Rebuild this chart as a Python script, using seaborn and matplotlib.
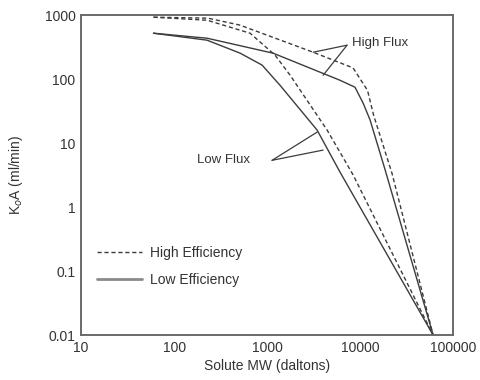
import numpy as np
import pandas as pd
import matplotlib
matplotlib.use("Agg")
import matplotlib.pyplot as plt
from matplotlib.lines import Line2D
import seaborn as sns

# curves: solute MW (daltons) vs KoA (ml/min)
he_high_mw = [60, 230, 510, 3100, 8400, 12000, 14000, 22000, 61000]
he_high_koa = [930, 900, 700, 265, 150, 67, 27, 3.4, 0.01]

le_high_mw = [60, 226, 1160, 6100, 8800, 10800, 12800, 18600, 61000]
le_high_koa = [523, 437, 255, 96, 75, 42, 23, 3.8, 0.01]

he_low_mw = [60, 226, 656, 1220, 1770, 4420, 8400, 61000]
he_low_koa = [930, 835, 523, 237, 115, 16, 3.2, 0.01]

le_low_mw = [60, 226, 513, 883, 1380, 3450, 6100, 61000]
le_low_koa = [523, 407, 255, 166, 80, 16, 3.5, 0.01]

x_ticks = [10, 100, 1000, 10000, 100000]
x_tick_labels = ["10", "100", "1000", "10000", "100000"]
y_ticks = [0.01, 0.1, 1, 10, 100, 1000]
y_tick_labels = ["0.01", "0.1", "1", "10", "100", "1000"]


def build_frame():
    parts = []
    for name, eff, mw, koa in [
        ("he_high", "High Efficiency", he_high_mw, he_high_koa),
        ("le_high", "Low Efficiency", le_high_mw, le_high_koa),
        ("he_low", "High Efficiency", he_low_mw, he_low_koa),
        ("le_low", "Low Efficiency", le_low_mw, le_low_koa),
    ]:
        parts.append(pd.DataFrame({"curve": name, "efficiency": eff,
                                   "mw": mw, "koa": koa}))
    return pd.concat(parts, ignore_index=True)


if __name__ == '__main__':
    sns.set_style("white")
    plt.rcParams['font.family'] = ['Liberation Sans', 'DejaVu Sans']

    df = build_frame()
    line_color = "#3c3c3c"

    fig = plt.figure(figsize=(4.8, 3.8), dpi=100)
    ax = fig.add_axes([0.169, 0.118, 0.775, 0.842])

    sns.lineplot(data=df, x="mw", y="koa", units="curve", estimator=None,
                 style="efficiency", sort=False, color=line_color, linewidth=1.0,
                 dashes={"High Efficiency": (3, 2), "Low Efficiency": ""},
                 legend=False, ax=ax, clip_on=False)

    ax.set_xscale("log")
    ax.set_yscale("log")
    ax.set_xlim(10, 100000)
    ax.set_ylim(0.01, 1000)
    ax.set_xticks(x_ticks)
    ax.set_xticklabels(x_tick_labels)
    ax.set_yticks(y_ticks)
    ax.set_yticklabels(y_tick_labels)
    ax.minorticks_off()
    ax.tick_params(length=0, labelsize=10, colors="#333333", pad=4)

    for side in ["top", "right", "left", "bottom"]:
        ax.spines[side].set_color("#6a6a6a")
        ax.spines[side].set_linewidth(1.4)

    ax.set_xlabel("Solute MW (daltons)", fontsize=10, color="#333333", labelpad=3)
    ax.set_ylabel(r"K$_o$A (ml/min)", fontsize=10, color="#333333", labelpad=14)

    # flux labels with pointer lines
    ax.text(8200, 365, "High Flux", fontsize=9.5, color="#333333", va="center")
    ax.plot([7240, 3130], [340, 264], color=line_color, lw=0.9)
    ax.plot([7240, 4000], [340, 115], color=line_color, lw=0.9)

    ax.text(177, 5.4, "Low Flux", fontsize=9.5, color="#333333", va="center")
    ax.plot([1130, 3450], [5.4, 14.9], color=line_color, lw=0.9)
    ax.plot([1130, 4000], [5.4, 7.8], color=line_color, lw=0.9)

    handles = [Line2D([], [], color=line_color, lw=1.0, dashes=(3, 2)),
               Line2D([], [], color="#8a8a8a", lw=2.0)]
    ax.legend(handles, ["High Efficiency", "Low Efficiency"], frameon=False,
              loc="upper left", bbox_to_anchor=(0.01, 0.317), fontsize=10,
              handlelength=3.2, handletextpad=0.6, labelspacing=0.9,
              labelcolor="#333333")

    fig.savefig("out.png", dpi=100)
